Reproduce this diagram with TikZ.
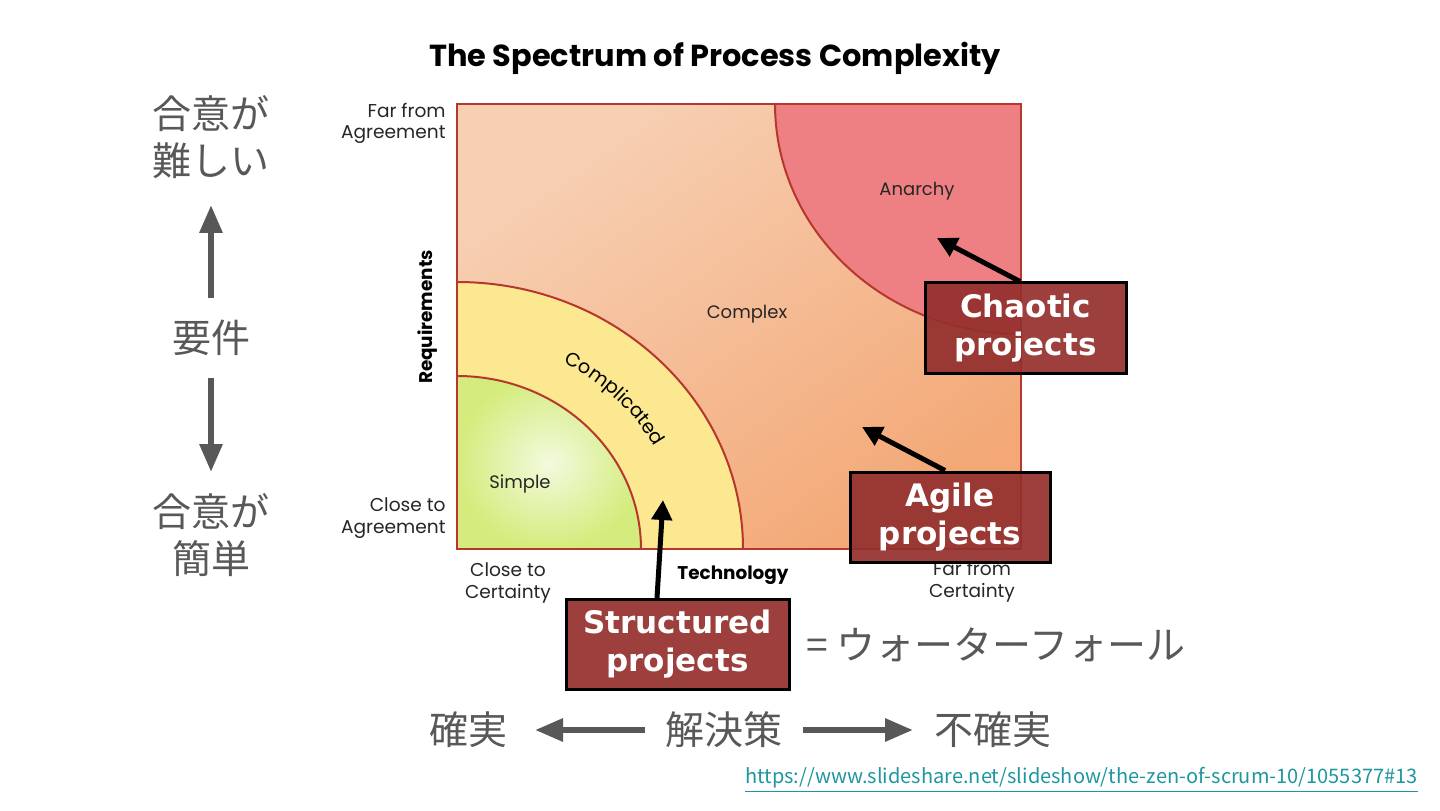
\documentclass[tikz,border=0pt]{standalone}
\usepackage{fontspec}
\newfontfamily\gothic{Poppins}
\newfontfamily\jp{Noto Sans CJK JP}
\newfontfamily\verd{DejaVu Sans}
\usetikzlibrary{arrows.meta,decorations.text}
\definecolor{peachA}{RGB}{247,208,180}
\definecolor{peachB}{RGB}{243,168,118}
\definecolor{anar}{RGB}{238,128,131}
\definecolor{yel}{RGB}{252,232,145}
\definecolor{grnL}{RGB}{242,250,222}
\definecolor{grnD}{RGB}{212,236,125}
\definecolor{edgered}{RGB}{182,55,45}
\definecolor{boxred}{RGB}{148,48,46}
\definecolor{jgray}{RGB}{88,88,88}
\definecolor{urlteal}{RGB}{30,150,160}
\tikzset{
  cornerlbl/.style={font=\gothic\fontsize{9.3pt}{10.8pt}\selectfont, text=black!85, align=center, inner sep=0pt},
  arealbl/.style={font=\gothic\fontsize{9pt}{10.5pt}\selectfont, text=black!85, inner sep=0pt},
  axislbl/.style={font=\gothic\bfseries\fontsize{9.2pt}{10pt}\selectfont, text=black, inner sep=0pt},
  projbox/.style={draw=black, line width=1.5pt, fill=boxred, fill opacity=0.93, text opacity=1, text=white,
    font=\verd\bfseries\fontsize{15.5pt}{19pt}\selectfont, align=center, inner sep=0pt, minimum height=45pt},
  blackarrow/.style={line width=2.5pt, -{Triangle[length=10pt,width=10pt]}, black},
  grayarrow/.style={line width=3pt, -{Triangle[length=14pt,width=11pt]}, jgray},
  jptext/.style={font=\jp\fontsize{19.5pt}{23.5pt}\selectfont, text=jgray, align=center, inner sep=0pt},
  regionedge/.style={draw=edgered, line width=1pt}
}
\begin{document}
\begin{tikzpicture}[x=0.5pt,y=0.5pt]
\useasboundingbox (0,0) rectangle (1440,810);
\coordinate (bl) at (457,261);
\coordinate (tr) at (1021,706);
% title
\node[font=\gothic\bfseries\fontsize{15.2pt}{17pt}\selectfont, inner sep=0pt] (title) at (715,752) {The Spectrum of Process Complexity};
% regions
\shade[top color=peachA, bottom color=peachB, shading angle=35] (bl) rectangle (tr);
\fill[anar] (775,706) arc[start angle=180,end angle=270,x radius=246,y radius=230] -- (tr) -- cycle;
\fill[yel] (bl) -- (457,528) arc[start angle=90,end angle=0,x radius=286,y radius=267] -- cycle;
\shade[inner color=grnL, outer color=grnD] (bl) -- (457,434) arc[start angle=90,end angle=0,x radius=184,y radius=173] -- cycle;
\draw[regionedge] (775,706) arc[start angle=180,end angle=270,x radius=246,y radius=230];
\draw[regionedge] (457,528) arc[start angle=90,end angle=0,x radius=286,y radius=267];
\draw[regionedge] (457,434) arc[start angle=90,end angle=0,x radius=184,y radius=173];
\draw[regionedge, line width=1.2pt] (bl) rectangle (tr);
% corner labels
\node[cornerlbl, anchor=east, align=right] (farA) at (446,686.5) {Far from\\Agreement};
\node[cornerlbl, anchor=east, align=right] (closeA) at (446,292) {Close to\\Agreement};
\node[cornerlbl] (closeC) at (508,227) {Close to\\Certainty};
\node[cornerlbl] (farC) at (972,228) {Far from\\Certainty};
\node[axislbl] (tech) at (733,235) {Technology};
\node[axislbl, rotate=90] (req) at (428,493) {Requirements};
% area labels
\node[arealbl] (anarchy) at (917,619) {Anarchy};
\node[arealbl] (complex) at (747,496) {Complex};
\node[arealbl] (simple) at (520,326) {Simple};
\path[decorate, decoration={text along path, text align=center,
  text={|\gothic\fontsize{9.6pt}{11pt}\selectfont|Complicated}}]
  ([shift={(bl)}]78:226 and 211) arc[start angle=78,end angle=12,x radius=226,y radius=211];
% project boxes
\node[projbox, minimum width=100.5pt] (chaotic) at (1025.5,482) {Chaotic\\projects};
\node[projbox, minimum width=100pt] (agile) at (950,293) {Agile\\projects};
\node[projbox, minimum width=111.5pt] (structured) at (677.5,165.5) {Structured\\projects};
\coordinate (chaoticTip) at (937,572);
\coordinate (agileTip) at (862,383);
\coordinate (structTip) at (663,310);
\draw[blackarrow] ([xshift=-2.75pt]chaotic.north) -- (chaoticTip);
\draw[blackarrow] ([xshift=-2.5pt]agile.north) -- (agileTip);
\draw[blackarrow] ([xshift=-10.25pt]structured.north) -- (structTip);
\node[jptext, anchor=west] (waterfall) at (806,165) {= ウォーターフォール};
% left axis
\node[jptext] (hard) at (211,673) {合意が\\難しい};
\node[jptext] (req2) at (211,472) {要件};
\node[jptext] (easy) at (211,275) {合意が\\簡単};
\coordinate (upStart) at (211,512);
\coordinate (upTip) at (211,605);
\coordinate (downStart) at (211,432);
\coordinate (downTip) at (211,338);
\draw[grayarrow] (upStart) -- (upTip);
\draw[grayarrow] (downStart) -- (downTip);
% bottom axis
\node[jptext] (certain) at (468,80) {確実};
\node[jptext] (solution) at (724,80) {解決策};
\node[jptext] (uncertain) at (993,80) {不確実};
\coordinate (leftStart) at (645,80);
\coordinate (leftTip) at (535,80);
\coordinate (rightStart) at (803,80);
\coordinate (rightTip) at (913,80);
\draw[grayarrow] (leftStart) -- (leftTip);
\draw[grayarrow] (rightStart) -- (rightTip);
% url
\node[font=\jp\fontsize{10pt}{12pt}\selectfont, text=urlteal, inner sep=0pt, anchor=east] (url) at (1418,30)
  {\underline{https://www.slideshare.net/slideshow/the-zen-of-scrum-10/1055377\#13}};
\end{tikzpicture}
\end{document}
